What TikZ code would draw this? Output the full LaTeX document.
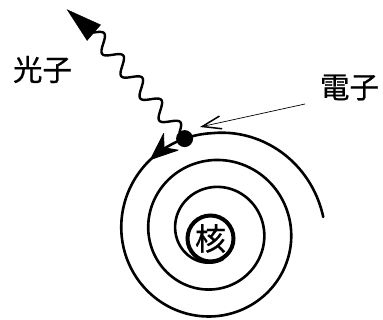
\documentclass[tikz,border=0pt]{standalone}
\usepackage{fontspec}
\newfontfamily\jpfont[FakeBold=0.7]{Noto Sans CJK JP}
\usetikzlibrary{arrows.meta}
\begin{document}
\begin{tikzpicture}[x=1pt,y=1pt,
  declare function={sr(\t)=98.4-0.075*(\t-90)+0.08*max(0,90-\t);},
  orbit/.style={line width=2.6pt, line cap=round, line join=round},
  photonline/.style={line width=2.4pt, line cap=round, line join=round},
  tag/.style={font=\jpfont\fontsize{29.5}{31}\selectfont, inner sep=0pt},
  barbtip/.style={fill, draw, line width=0.8pt, line join=round},
  ]
\useasboundingbox (0,0) rectangle (383,320);

% spiral orbit of the electron
\draw[orbit]
  plot[domain=7.5:1010, samples=450, smooth, variable=\t]
  ({213+sr(\t)*cos(\t)},{88.5+sr(\t)*sin(\t)});

% direction arrow on the orbit, along its tangent
\coordinate (orbitarrow) at ({213+sr(131)*cos(131)},{88.5+sr(131)*sin(131)});
\begin{scope}[shift={(orbitarrow)}, rotate=221]
  \path[barbtip] (0,0) -- (-27,11) -- (-18,0) -- (-27,-11) -- cycle;
\end{scope}

% nucleus
\node[circle, draw, line width=4pt, minimum size=46pt, inner sep=0pt,
      font=\jpfont\fontsize{31}{33}\selectfont] (nucleus) at (210.5,81.5) {核};

% electron
\node[circle, fill, inner sep=0pt, minimum size=17pt] (electron)
  at ({213+sr(107)*cos(107)},{88.5+sr(107)*sin(107)}) {};

% emitted photon (4.5 periods of a sine wave)
\begin{scope}[shift={(electron)}, rotate=130.6]
  \draw[photonline] plot[domain=8:139.7, samples=140, smooth, variable=\u]
    (\u,{-7.5*sin(12.3*(\u-8))});
  \coordinate (photonbase) at (139.7,0);
\end{scope}
\coordinate (photontip) at (66.7,310.7);
\draw[-{Triangle[length=36pt,width=21pt]}] (photonbase) -- (photontip);

% labels
\node[tag] (photonlabel) at (42.5,250.5) {光子};
\node[tag] (electronlabel) at (349.5,232.5) {電子};

% pointer to the electron
\coordinate (ptrstart) at (305,216);
\coordinate (ptrtip) at (200,193);
\draw[line width=0.7pt, -{Straight Barb[length=19pt,width=13pt,line width=1.5pt]}]
  (ptrstart) -- (ptrtip);
\end{tikzpicture}
\end{document}
